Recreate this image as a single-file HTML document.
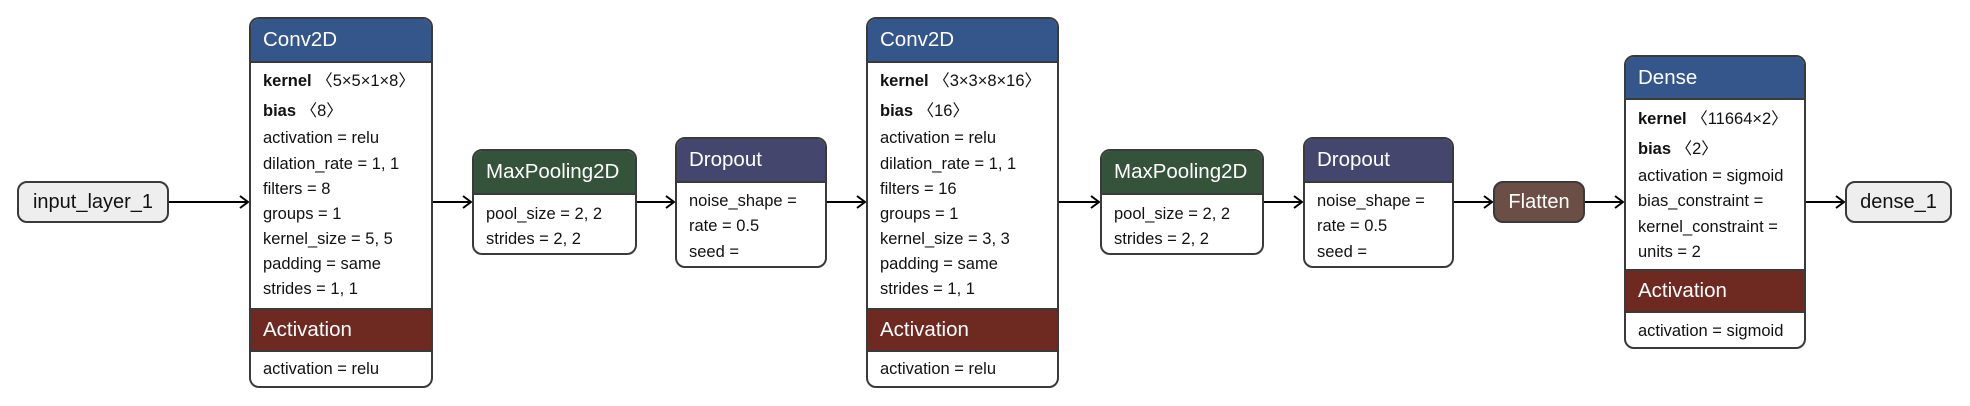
<!DOCTYPE html>
<html><head><meta charset="utf-8"><style>
body{margin:0;width:1970px;height:406px;background:#fff;position:relative;overflow:hidden;font-family:"Liberation Sans",Arial,sans-serif;}
.b{position:absolute;border:2px solid #3a3a3a;border-radius:10px;overflow:hidden;background:#fff;box-sizing:border-box;}
.h{color:#fff;font-size:20.5px;padding-left:12px;box-sizing:border-box;display:flex;align-items:center;border-bottom:2px solid #3a3a3a;}
.r{position:absolute;left:12px;font-size:16.5px;color:#111;white-space:nowrap;line-height:20px;}
.r b{font-weight:bold}
.pill{position:absolute;border:2px solid #3a3a3a;border-radius:10px;box-sizing:border-box;display:flex;align-items:center;justify-content:center;font-size:20px;}
.conv{background:#34568a}.act{background:#6e2920;border-top:2px solid #3a3a3a}.mp{background:#34533a}.dp{background:#44466e}
svg{position:absolute;left:0;top:0}
</style></head><body>
<svg width="1970" height="406">
<g stroke="#000" stroke-width="2" fill="none">
<path d="M169 202H248M240 196L248 202L240 208"/>
<path d="M432 202H471M463 196L471 202L463 208"/>
<path d="M637 202H674M666 196L674 202L666 208"/>
<path d="M826 202H865M857 196L865 202L857 208"/>
<path d="M1058 202H1099M1091 196L1099 202L1091 208"/>
<path d="M1263 202H1302M1294 196L1302 202L1294 208"/>
<path d="M1453 202H1492M1484 196L1492 202L1484 208"/>
<path d="M1584 202H1623M1615 196L1623 202L1615 208"/>
<path d="M1805 202H1844M1836 196L1844 202L1836 208"/>
</g></svg>

<div class="pill" style="left:17px;top:181px;width:152px;height:42px;background:#eeeeee;color:#111">input_layer_1</div>

<div class="b" style="left:249px;top:17px;width:184px;height:371px">
<div class="h conv" style="height:44px">Conv2D</div>
<div class="r" style="top:52px"><b>kernel</b> 〈5×5×1×8〉</div>
<div class="r" style="top:82px"><b>bias</b> 〈8〉</div>
<div class="r" style="top:109px">activation = relu</div>
<div class="r" style="top:135px">dilation_rate = 1, 1</div>
<div class="r" style="top:160px">filters = 8</div>
<div class="r" style="top:185px">groups = 1</div>
<div class="r" style="top:210px">kernel_size = 5, 5</div>
<div class="r" style="top:235px">padding = same</div>
<div class="r" style="top:260px">strides = 1, 1</div>
<div class="h act" style="position:absolute;top:289px;left:0;width:100%;height:44px">Activation</div>
<div class="r" style="top:340px">activation = relu</div>
</div>

<div class="b" style="left:472px;top:149px;width:165px;height:106px">
<div class="h mp" style="height:44px">MaxPooling2D</div>
<div class="r" style="top:53px">pool_size = 2, 2</div>
<div class="r" style="top:78px">strides = 2, 2</div>
</div>

<div class="b" style="left:675px;top:137px;width:152px;height:131px">
<div class="h dp" style="height:44px">Dropout</div>
<div class="r" style="top:52px">noise_shape =</div>
<div class="r" style="top:77px">rate = 0.5</div>
<div class="r" style="top:103px">seed =</div>
</div>

<div class="b" style="left:866px;top:17px;width:193px;height:371px">
<div class="h conv" style="height:44px">Conv2D</div>
<div class="r" style="top:52px"><b>kernel</b> 〈3×3×8×16〉</div>
<div class="r" style="top:82px"><b>bias</b> 〈16〉</div>
<div class="r" style="top:109px">activation = relu</div>
<div class="r" style="top:135px">dilation_rate = 1, 1</div>
<div class="r" style="top:160px">filters = 16</div>
<div class="r" style="top:185px">groups = 1</div>
<div class="r" style="top:210px">kernel_size = 3, 3</div>
<div class="r" style="top:235px">padding = same</div>
<div class="r" style="top:260px">strides = 1, 1</div>
<div class="h act" style="position:absolute;top:289px;left:0;width:100%;height:44px">Activation</div>
<div class="r" style="top:340px">activation = relu</div>
</div>

<div class="b" style="left:1100px;top:149px;width:164px;height:106px">
<div class="h mp" style="height:44px">MaxPooling2D</div>
<div class="r" style="top:53px">pool_size = 2, 2</div>
<div class="r" style="top:78px">strides = 2, 2</div>
</div>

<div class="b" style="left:1303px;top:137px;width:151px;height:131px">
<div class="h dp" style="height:44px">Dropout</div>
<div class="r" style="top:52px">noise_shape =</div>
<div class="r" style="top:77px">rate = 0.5</div>
<div class="r" style="top:103px">seed =</div>
</div>

<div class="pill" style="left:1493px;top:181px;width:92px;height:42px;background:#6b4e45;color:#fff">Flatten</div>

<div class="b" style="left:1624px;top:55px;width:182px;height:294px">
<div class="h conv" style="height:43px">Dense</div>
<div class="r" style="top:52px"><b>kernel</b> 〈11664×2〉</div>
<div class="r" style="top:82px"><b>bias</b> 〈2〉</div>
<div class="r" style="top:109px">activation = sigmoid</div>
<div class="r" style="top:134px">bias_constraint =</div>
<div class="r" style="top:160px">kernel_constraint =</div>
<div class="r" style="top:185px">units = 2</div>
<div class="h act" style="position:absolute;top:212px;left:0;width:100%;height:44px">Activation</div>
<div class="r" style="top:264px">activation = sigmoid</div>
</div>

<div class="pill" style="left:1845px;top:181px;width:107px;height:42px;background:#eeeeee;color:#111">dense_1</div>
</body></html>
